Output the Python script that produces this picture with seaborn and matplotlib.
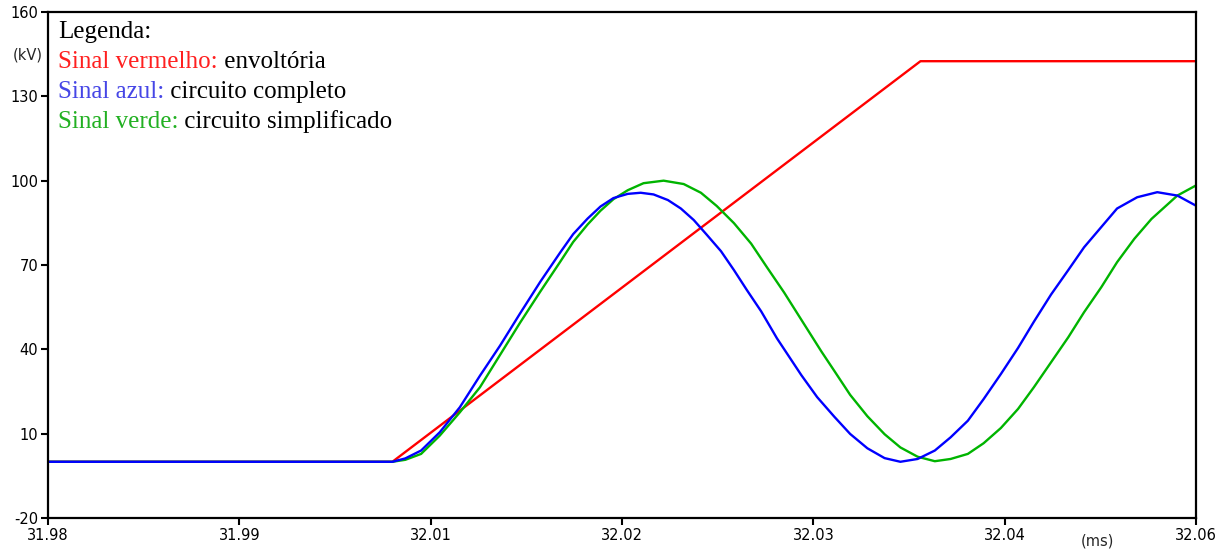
import matplotlib
matplotlib.use("Agg")
import matplotlib.pyplot as plt
import seaborn as sns

# ---- data ----
red_t = [31.980, 32.0040, 32.0408, 32.0600]
red_v = [0.0, 0.0, 142.5, 142.5]

blue_t = [31.980, 32.0040, 32.0049, 32.0060, 32.0073, 32.0087, 32.0101, 32.0115,
          32.0129, 32.0143, 32.0157, 32.0166, 32.0176, 32.0185, 32.0194, 32.0204,
          32.0213, 32.0222, 32.0232, 32.0241, 32.0250, 32.0259, 32.0269, 32.0278,
          32.0287, 32.0297, 32.0308, 32.0325, 32.0336, 32.0348, 32.0359, 32.0371,
          32.0383, 32.0394, 32.0406, 32.0418, 32.0429, 32.0441, 32.0452, 32.0464,
          32.0476, 32.0487, 32.0499, 32.0511, 32.0522, 32.0534, 32.0545, 32.0559,
          32.0573, 32.0587, 32.0600]
blue_v = [0.0, 0.0, 1.2, 4.0, 10.5, 19.4, 30.6, 41.3,
          52.8, 64.0, 74.5, 81.0, 86.5, 90.8, 93.8, 95.3,
          95.7, 95.1, 93.1, 90.1, 86.0, 80.8, 74.9, 68.2,
          61.1, 53.5, 43.9, 30.8, 23.0, 16.0, 9.9, 4.8,
          1.3, 0.0, 1.0, 4.0, 8.7, 14.6, 22.3, 31.2,
          40.5, 49.8, 59.5, 68.2, 76.3, 83.5, 90.1, 94.1,
          95.9, 94.7, 91.1]

green_t = [31.980, 32.0040, 32.0049, 32.0060, 32.0073, 32.0087, 32.0101, 32.0115,
           32.0129, 32.0143, 32.0157, 32.0166, 32.0176, 32.0185, 32.0194, 32.0204,
           32.0215, 32.0229, 32.0243, 32.0255, 32.0266, 32.0278, 32.0290, 32.0301,
           32.0313, 32.0325, 32.0339, 32.0348, 32.0359, 32.0371, 32.0383, 32.0394,
           32.0406, 32.0418, 32.0429, 32.0441, 32.0452, 32.0464, 32.0476, 32.0487,
           32.0499, 32.0511, 32.0522, 32.0534, 32.0545, 32.0557, 32.0569, 32.0587,
           32.0600]
green_v = [0.0, 0.0, 0.7, 2.8, 9.3, 17.6, 26.5, 38.0,
           49.5, 60.5, 71.2, 78.2, 84.4, 89.3, 93.4, 96.6,
           99.1, 100.0, 98.8, 95.7, 91.0, 84.9, 77.6, 69.2,
           60.2, 50.5, 39.2, 32.3, 23.8, 16.2, 9.8, 5.1,
           1.8, 0.2, 1.0, 2.8, 6.6, 12.0, 18.8, 26.5,
           35.4, 44.3, 53.2, 62.1, 71.0, 79.3, 86.4, 94.7,
           98.3]

x_ticks = [31.98, 31.98 + 0.08 / 6, 31.98 + 0.16 / 6, 32.02,
           31.98 + 0.32 / 6, 31.98 + 0.40 / 6, 32.06]
x_labels = ["31.98", "31.99", "32.01", "32.02", "32.03", "32.04", "32.06"]
y_ticks = [-20, 10, 40, 70, 100, 130, 160]

legend_title = "Legenda:"
legend_keys = ["Sinal vermelho:", "Sinal azul:", "Sinal verde:"]
legend_descs = ["envoltória", "circuito completo", "circuito simplificado"]
legend_colors = ["#ff2020", "#4646e6", "#22b022"]

# ---- plot ----
sns.set_style("white")
plt.rcParams['font.family'] = ['DejaVu Sans']
plt.rcParams['axes.unicode_minus'] = False

W, H = 1228, 552
fig = plt.figure(figsize=(W / 100, H / 100), dpi=100)
ax = fig.add_axes([48 / W, 34 / H, 1148 / W, 506 / H])

sns.lineplot(x=red_t, y=red_v, color="#ff0000", lw=1.7, ax=ax)
sns.lineplot(x=green_t, y=green_v, color="#00b400", lw=1.7, ax=ax)
sns.lineplot(x=blue_t, y=blue_v, color="#0000ff", lw=1.7, ax=ax)

ax.set_xlim(31.98, 32.06)
ax.set_ylim(-20, 160)
ax.set_xticks(x_ticks)
ax.set_xticklabels(x_labels)
ax.set_yticks(y_ticks)
ax.tick_params(bottom=True, left=True, direction='out', length=5, width=1.5,
               color='black', labelsize=10.5, pad=2, labelcolor='black')
for s in ax.spines.values():
    s.set_color('black')
    s.set_linewidth(1.6)
ax.grid(False)

fig.text(28 / W, 1 - 55 / H, "(kV)", ha='center', va='center', fontsize=10.5)
fig.text(1097 / W, 1 - 541 / H, "(ms)", ha='center', va='center', fontsize=10.5)

serif = ['Liberation Serif', 'DejaVu Serif']
fs = 18
fig.text(58 / W, 1 - 38 / H, legend_title, family=serif, fontsize=fs,
         va='baseline', ha='left', color='black')
for i, (k, d, c) in enumerate(zip(legend_keys, legend_descs, legend_colors)):
    t = fig.text(58 / W, 1 - (68 + 30 * i) / H, k, family=serif, fontsize=fs,
                 va='baseline', ha='left', color=c)
    ax.annotate(" " + d, xy=(1, 0), xycoords=t, va='bottom', ha='left',
                family=serif, fontsize=fs, color='black')

fig.savefig("out.png", dpi=100)
